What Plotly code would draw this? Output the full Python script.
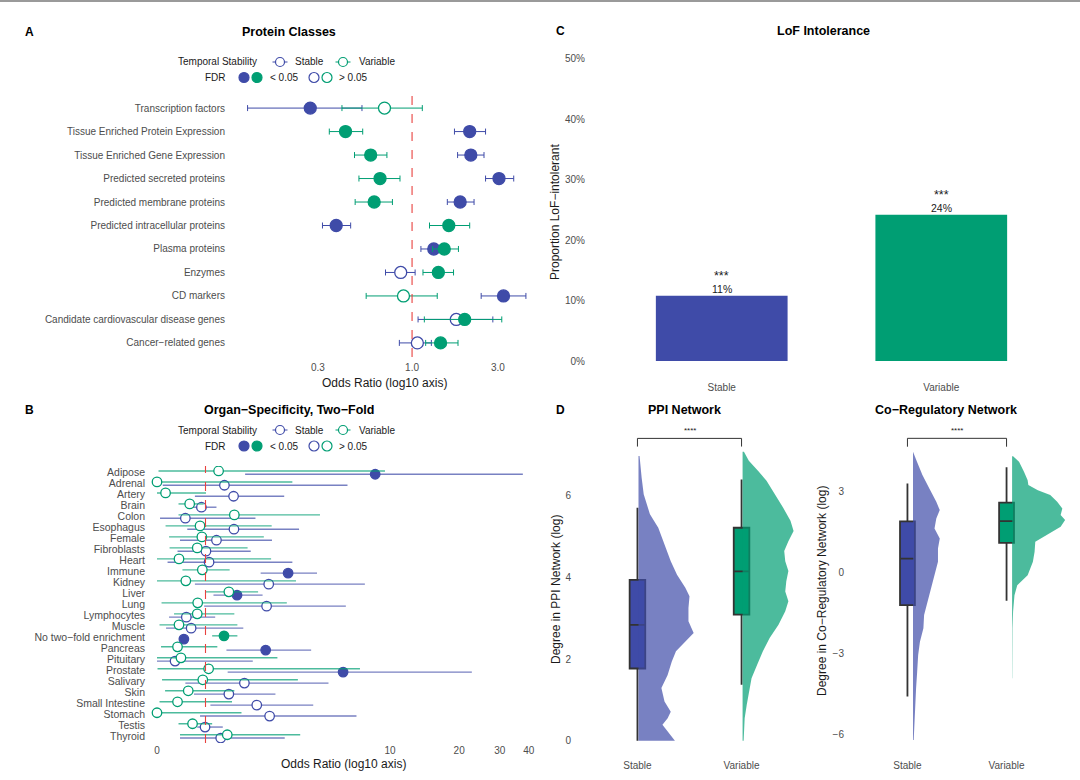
import numpy as np
import plotly.graph_objects as go

W, H = 1080, 780
BLUE = "#3F4BA8"
GREEN = "#009E73"
BLUE_SOFT = "rgba(63,75,168,0.7)"
GREEN_SOFT = "rgba(0,158,115,0.7)"
GREY_TXT = "#4D4D4D"
INK = "#1A1A1A"
FONT = "Liberation Sans, Arial, Helvetica, sans-serif"

# ---- A: protein classes, odds ratio with 95% CI ----
classes = ["Transcription factors", "Tissue Enriched Protein Expression",
           "Tissue Enriched Gene Expression", "Predicted secreted proteins",
           "Predicted membrane proteins", "Predicted intracellular proteins",
           "Plasma proteins", "Enzymes", "CD markers",
           "Candidate cardiovascular disease genes", "Cancer\u2212related genes"]
a_stable_or = [0.272, 2.09, 2.12, 3.04, 1.85, 0.379, 1.32, 0.865, 3.22, 1.76, 1.07]
a_stable_lo = [0.122, 1.72, 1.79, 2.56, 1.57, 0.318, 1.12, 0.712, 2.42, 1.08, 0.85]
a_stable_hi = [0.527, 2.56, 2.51, 3.67, 2.21, 0.456, 1.55, 1.04, 4.29, 2.81, 1.28]
a_stable_sig = [True, True, True, True, True, True, True, False, True, False, False]
a_variable_or = [0.703, 0.427, 0.589, 0.664, 0.616, 1.60, 1.51, 1.40, 0.896, 1.96, 1.44]
a_variable_lo = [0.408, 0.347, 0.479, 0.507, 0.483, 1.25, 1.30, 1.15, 0.556, 1.17, 1.19]
a_variable_hi = [1.14, 0.532, 0.725, 0.857, 0.778, 2.09, 1.81, 1.70, 1.38, 3.15, 1.80]
a_variable_sig = [False, True, True, True, True, True, True, True, False, True, True]

# ---- B: organ specificity (two-fold), pseudo-log axis ----
organs = ["Adipose", "Adrenal", "Artery", "Brain", "Colon", "Esophagus", "Female",
          "Fibroblasts", "Heart", "Immune", "Kidney", "Liver", "Lung", "Lymphocytes",
          "Muscle", "No two\u2212fold enrichment", "Pancreas", "Pituitary", "Prostate",
          "Salivary", "Skin", "Small Intestine", "Stomach", "Testis", "Thyroid"]
b_stable_or = [8.6, 1.44, 1.67, 0.91, 0.57, 1.68, 1.25, 1.01, 1.08, 3.40, 2.70, 1.76, 2.63,
               0.59, 0.69, 0.54, 2.60, 0.36, 6.18, 1.96, 1.55, 2.32, 2.73, 0.99, 1.35]
b_stable_lo = [1.98, 0.115, 0.77, 0.61, 0.06, 0.61, 0.46, 0.41, 0.21, 2.44, 0.77, 1.18, 0.97,
               0.24, 0.18, 0.50, 1.49, 0.0, 1.52, 0.57, 0.75, 1.11, 0.88, 0.82, 0.46]
b_stable_hi = [37.7, 6.47, 3.25, 1.25, 2.28, 3.85, 2.81, 2.14, 3.57, 4.69, 7.74, 2.50, 6.36,
               1.22, 1.93, 0.58, 4.40, 2.20, 22.7, 5.30, 2.93, 4.50, 7.10, 1.40, 3.27]
b_stable_sig = [True, False, False, False, False, False, False, False, False, True, False, True,
                False, False, False, True, True, False, True, False, False, False, False, False, False]
b_variable_or = [1.30, 0.0, 0.17, 0.66, 1.69, 0.88, 0.92, 0.82, 0.44, 0.93, 0.58, 1.55, 0.83,
                 0.82, 0.44, 1.43, 0.41, 0.48, 1.07, 0.94, 0.63, 0.41, 0.0, 0.72, 1.51]
b_variable_lo = [0.03, 0.0, 0.0, 0.43, 0.43, 0.17, 0.24, 0.25, 0.0, 0.51, 0.0, 0.99, 0.09,
                 0.34, 0.05, 1.15, 0.08, 0.0, 0.01, 0.10, 0.16, 0.05, 0.0, 0.43, 0.46]
b_variable_hi = [9.5, 3.57, 1.01, 0.96, 4.84, 2.80, 2.54, 2.05, 2.78, 1.57, 3.72, 2.36, 3.35,
                 1.69, 1.77, 1.77, 1.27, 3.0, 7.36, 3.8, 1.69, 1.63, 1.88, 1.15, 3.9]
b_variable_sig = [False] * 15 + [True] + [False] * 9
b_ticks = [0, 10, 20, 30, 40]

# ---- C: LoF intolerance ----
groups = ["Stable", "Variable"]
lof_prop = [0.108, 0.242]
lof_text = ["11%", "24%"]
lof_stars = ["***", "***"]

# ---- D: network degree, box stats and density outlines ----
ppi_q1 = [1.77, 3.09]
ppi_med = [2.84, 4.15]
ppi_q3 = [3.94, 5.22]
ppi_lo = [0.0, 1.37]
ppi_hi = [5.71, 6.40]
coreg_q1 = [-1.20, 1.11]
coreg_med = [0.52, 1.91]
coreg_q3 = [1.90, 2.60]
coreg_lo = [-4.59, -1.04]
coreg_hi = [3.31, 3.91]

ppi_stable_y = [0.0, 0.22, 0.39, 0.55, 0.71, 0.96, 1.29, 1.61, 1.94, 2.19, 2.43, 2.64, 2.93,
                3.25, 3.54, 3.75, 4.07, 4.40, 4.81, 5.22, 5.55, 5.71, 6.04, 6.45, 6.98]
ppi_stable_w = [0.35, 0.28, 0.23, 0.28, 0.31, 0.25, 0.22, 0.28, 0.32, 0.36, 0.45, 0.53, 0.48,
                0.48, 0.49, 0.45, 0.37, 0.31, 0.25, 0.19, 0.11, 0.09, 0.05, 0.03, 0.01]
ppi_variable_y = [0.0, 0.30, 0.55, 0.88, 1.20, 1.53, 1.86, 2.19, 2.52, 2.84, 3.17, 3.42, 3.66,
                  3.91, 4.16, 4.40, 4.65, 4.89, 5.14, 5.39, 5.71, 6.04, 6.37, 6.61, 6.86, 7.08]
ppi_variable_w = [0.01, 0.013, 0.02, 0.04, 0.063, 0.086, 0.14, 0.195, 0.26, 0.345, 0.41, 0.44,
                  0.41, 0.42, 0.44, 0.41, 0.40, 0.44, 0.49, 0.46, 0.39, 0.31, 0.23, 0.15, 0.06, 0.013]
coreg_stable_y = [-6.2, -5.52, -4.90, -4.28, -3.67, -3.05, -2.56, -2.06, -1.57, -1.07, -0.58,
                  -0.09, 0.41, 0.90, 1.27, 1.64, 2.01, 2.32, 2.63, 3.12, 3.62, 4.11, 4.48]
coreg_stable_w = [0.007, 0.014, 0.024, 0.031, 0.042, 0.052, 0.07, 0.105, 0.112, 0.147, 0.18,
                  0.217, 0.252, 0.252, 0.27, 0.217, 0.235, 0.27, 0.235, 0.165, 0.095, 0.04, 0.007]
coreg_variable_y = [-3.91, -2.93, -2.06, -1.44, -0.83, -0.46, -0.09, 0.41, 0.78, 1.15, 1.46,
                    1.70, 1.95, 2.14, 2.38, 2.63, 2.88, 3.06, 3.25, 3.43, 3.74, 4.11, 4.32]
coreg_variable_w = [0.002, 0.002, 0.004, 0.01, 0.024, 0.052, 0.157, 0.21, 0.227, 0.234, 0.385,
                    0.49, 0.535, 0.49, 0.507, 0.455, 0.385, 0.26, 0.164, 0.157, 0.12, 0.07, 0.01]
ppi_bracket = [7.21, 7.41]
coreg_bracket = [4.67, 4.98]


def pseudo_log(v):
    return np.arcsinh(np.asarray(v, dtype=float) / 2) / np.log(10)


def fx(x):
    return x / W


def fy(y):
    return 1 - y / H


fig = go.Figure()


def forest_trace(xs, lo, hi, ys, sig, color, line_color, size, thick, cap, xa, ya):
    xs = np.asarray(xs, dtype=float)
    return go.Scatter(
        x=xs, y=ys, mode="markers", xaxis=xa, yaxis=ya, hoverinfo="skip",
        marker=dict(size=size, color=[color if s else "white" for s in sig],
                    line=dict(color=color, width=1.3)),
        error_x=dict(type="data", symmetric=False, array=np.asarray(hi) - xs,
                     arrayminus=xs - np.asarray(lo), color=line_color,
                     thickness=thick, width=cap))


# panel A
rows_a = np.arange(len(classes))
fig.add_trace(forest_trace(a_stable_or, a_stable_lo, a_stable_hi, rows_a, a_stable_sig,
                           BLUE, BLUE, 12, 1.0, 3, "x", "y"))
fig.add_trace(forest_trace(a_variable_or, a_variable_lo, a_variable_hi, rows_a, a_variable_sig,
                           GREEN, GREEN, 12, 1.0, 3, "x", "y"))

# panel B (pseudo-log transformed)
rows_b = np.arange(len(organs))
fig.add_trace(forest_trace(pseudo_log(b_stable_or), pseudo_log(b_stable_lo), pseudo_log(b_stable_hi),
                           rows_b + 0.15, b_stable_sig, BLUE, BLUE_SOFT, 9.5, 1.4, 0, "x2", "y2"))
fig.add_trace(forest_trace(pseudo_log(b_variable_or), pseudo_log(b_variable_lo), pseudo_log(b_variable_hi),
                           rows_b - 0.15, b_variable_sig, GREEN, GREEN_SOFT, 9.5, 1.4, 0, "x2", "y2"))

# panel C
fig.add_trace(go.Bar(x=[0, 1], y=lof_prop, width=0.6, marker=dict(color=[BLUE, GREEN], line=dict(width=0)),
                     xaxis="x3", yaxis="y3", hoverinfo="skip"))
for i in range(2):
    fig.add_annotation(x=i, y=lof_prop[i], xref="x3", yref="y3", text=lof_text[i], showarrow=False,
                       yanchor="bottom", yshift=-1, font=dict(size=10.5, color=INK))
    fig.add_annotation(x=i, y=lof_prop[i], xref="x3", yref="y3", text=lof_stars[i], showarrow=False,
                       yanchor="bottom", yshift=11, font=dict(size=12.5, color=INK))


# panel D: half violins (density outlines) + boxes
def raincloud(ys_list, ws_list, q1, med, q3, lo, hi, nudge, xa, ya):
    fills = ["rgba(63,75,168,0.7)", "rgba(0,158,115,0.7)"]
    for i in range(2):
        base = i + nudge
        xs = list(base + np.asarray(ws_list[i])) + [base, base]
        ys = list(ys_list[i]) + [ys_list[i][-1], ys_list[i][0]]
        fig.add_trace(go.Scatter(x=xs, y=ys, mode="lines", fill="toself", fillcolor=fills[i],
                                 line=dict(width=0), xaxis=xa, yaxis=ya, hoverinfo="skip"))
    for i, col in enumerate([BLUE, GREEN]):
        fig.add_trace(go.Box(x=[i], q1=[q1[i]], median=[med[i]], q3=[q3[i]],
                             lowerfence=[lo[i]], upperfence=[hi[i]], width=0.15,
                             whiskerwidth=0, fillcolor=col, boxpoints=False,
                             line=dict(color="#333333", width=1.8),
                             xaxis=xa, yaxis=ya, hoverinfo="skip"))


raincloud([ppi_stable_y, ppi_variable_y], [ppi_stable_w, ppi_variable_w],
          ppi_q1, ppi_med, ppi_q3, ppi_lo, ppi_hi, 0.01, "x4", "y4")
raincloud([coreg_stable_y, coreg_variable_y], [coreg_stable_w, coreg_variable_w],
          coreg_q1, coreg_med, coreg_q3, coreg_lo, coreg_hi, 0.056, "x5", "y5")

for br, xa, ya in [(ppi_bracket, "x4", "y4"), (coreg_bracket, "x5", "y5")]:
    fig.add_trace(go.Scatter(x=[0, 0, 1, 1], y=[br[0], br[1], br[1], br[0]], mode="lines",
                             line=dict(color="#333333", width=1), xaxis=xa, yaxis=ya, hoverinfo="skip"))
    fig.add_annotation(x=0.5, y=br[1], xref=xa, yref=ya, text="****", showarrow=False,
                       yanchor="bottom", yshift=1, font=dict(size=8, color=INK))

# reference lines at OR = 1
fig.add_shape(type="line", xref="x", yref="y domain", x0=1, x1=1, y0=0, y1=1,
              line=dict(color="#E8423F", width=1.1, dash="dash"))
fig.add_shape(type="line", xref="x2", yref="y2 domain", x0=float(pseudo_log(1)), x1=float(pseudo_log(1)),
              y0=0, y1=1, line=dict(color="#E8423F", width=1.1, dash="dash"))

# top border
fig.add_shape(type="line", xref="paper", yref="paper", x0=0, x1=1, y0=fy(1), y1=fy(1),
              line=dict(color="#9A9A9A", width=2))


def add_text(x, y, text, size=10, color=INK, anchor="center", angle=0):
    fig.add_annotation(x=fx(x), y=fy(y), xref="paper", yref="paper", text=text, showarrow=False,
                       xanchor=anchor, yanchor="middle", textangle=angle,
                       font=dict(size=size, color=color, family=FONT))


def key_circle(cx, cy, color, filled, r=5.0):
    fig.add_shape(type="circle", xref="paper", yref="paper",
                  x0=fx(cx - r), x1=fx(cx + r), y0=fy(cy + r), y1=fy(cy - r),
                  line=dict(color=color, width=1.2), fillcolor=color if filled else "white")


def legend_block(y1, y2):
    add_text(259, y1, "Temporal Stability", anchor="right")
    for cx, col in [(280, BLUE), (343, GREEN)]:
        fig.add_shape(type="line", xref="paper", yref="paper", x0=fx(cx - 7.5), x1=fx(cx + 7.5),
                      y0=fy(y1), y1=fy(y1), line=dict(color=col, width=1))
        key_circle(cx, y1, col, False, 4.5)
    add_text(293, y1, "Stable", anchor="left")
    add_text(357, y1, "Variable", anchor="left")
    add_text(228, y2, "FDR", anchor="right")
    key_circle(244, y2, BLUE, True)
    key_circle(257, y2, GREEN, True)
    add_text(268, y2, "< 0.05", anchor="left")
    key_circle(314, y2, BLUE, False)
    key_circle(327, y2, GREEN, False)
    add_text(337, y2, "> 0.05", anchor="left")


legend_block(62, 77.5)
legend_block(430, 446)

# panel letters and titles
for x, y, t in [(23, 32, "A"), (23, 410, "B"), (554, 31, "C"), (554, 410, "D")]:
    add_text(x, y, "<b>%s</b>" % t, size=12, color="black", anchor="left")
for x, y, t in [(289, 32, "Protein Classes"), (289, 410, "Organ\u2212Specificity, Two\u2212Fold"),
                (823, 31, "LoF Intolerance"), (684, 410, "PPI Network"),
                (946, 410, "Co\u2212Regulatory Network")]:
    add_text(x, y, "<b>%s</b>" % t, size=12.5, color="black")

add_text(385, 383, "Odds Ratio (log10 axis)", size=12)
add_text(343, 764, "Odds Ratio (log10 axis)", size=12)
add_text(555, 212, "Proportion LoF\u2212intolerant", size=12, angle=-90)
add_text(556, 590, "Degree in PPI Network (log)", size=12, angle=-90)
add_text(822, 591, "Degree in Co\u2212Regulatory Network (log)", size=12, angle=-90)

axis_common = dict(showgrid=False, zeroline=False, showline=False, ticks="", fixedrange=True)
tickfont = dict(size=10, color=GREY_TXT, family=FONT)

fig.update_layout(
    width=W, height=H, margin=dict(l=0, r=0, t=0, b=0),
    paper_bgcolor="white", plot_bgcolor="white", showlegend=False,
    font=dict(family=FONT, size=10, color=GREY_TXT),
    xaxis=dict(axis_common, domain=[fx(234), fx(537)], type="log", range=[-0.989, 0.694],
               tickvals=[0.3, 1, 3], ticktext=["0.3", "1.0", "3.0"], tickfont=tickfont,
               anchor="y", ticklabelstandoff=3),
    yaxis=dict(axis_common, domain=[fy(357), fy(94)], range=[len(classes) - 0.4, -0.6],
               tickvals=list(rows_a), ticktext=classes, tickfont=tickfont, anchor="x",
               ticklabelstandoff=8),
    xaxis2=dict(axis_common, domain=[fx(148), fx(535)], range=[-0.0388, 1.629],
                tickvals=list(pseudo_log(b_ticks)), ticktext=[str(t) for t in b_ticks],
                tickfont=tickfont, anchor="y2", ticklabelstandoff=0),
    yaxis2=dict(axis_common, domain=[fy(743), fy(466)], range=[len(organs) - 0.4, -0.6],
                tickvals=list(rows_b), ticktext=organs,
                tickfont=dict(size=10.5, color=GREY_TXT, family=FONT), anchor="x2",
                ticklabelstandoff=2),
    xaxis3=dict(axis_common, domain=[fx(590), fx(1073)], range=[-0.6, 1.6],
                tickvals=[0, 1], ticktext=groups, tickfont=tickfont, anchor="y3",
                ticklabelstandoff=4),
    yaxis3=dict(axis_common, domain=[fy(376), fy(44)], range=[-0.0248, 0.5248],
                tickvals=[0, 0.1, 0.2, 0.3, 0.4, 0.5], tickformat=".0%", tickfont=tickfont,
                anchor="x3", ticklabelstandoff=4),
    xaxis4=dict(axis_common, domain=[fx(575), fx(804)], range=[-0.6, 1.6],
                tickvals=[0, 1], ticktext=groups, tickfont=tickfont, anchor="y4",
                ticklabelstandoff=6),
    yaxis4=dict(axis_common, domain=[fy(752), fy(418)], range=[-0.277, 7.91],
                tickvals=[0, 2, 4, 6], tickfont=tickfont, anchor="x4", ticklabelstandoff=3),
    xaxis5=dict(axis_common, domain=[fx(848), fx(1066)], range=[-0.6, 1.6],
                tickvals=[0, 1], ticktext=groups, tickfont=tickfont, anchor="y5",
                ticklabelstandoff=12),
    yaxis5=dict(axis_common, domain=[fy(746), fy(427)], range=[-6.42, 5.40],
                tickvals=[-6, -3, 0, 3], ticktext=["\u22126", "\u22123", "0", "3"],
                tickfont=tickfont, anchor="x5", ticklabelstandoff=3),
)

# the default page has an 8px body margin; drop it so the figure sits at (0, 0)
fig.write_html("out.html", config={"displayModeBar": False},
               post_script="document.body.style.margin='0px';")
